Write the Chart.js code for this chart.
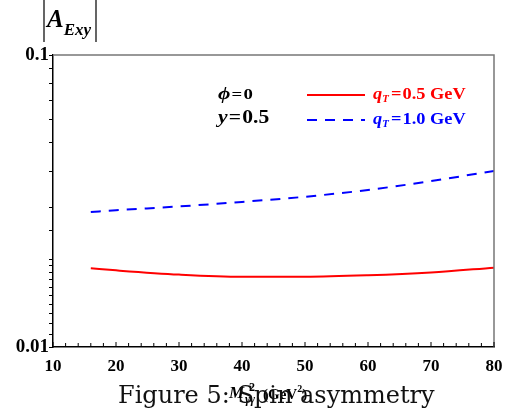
<!DOCTYPE html>
<html>
<head>
<meta charset="utf-8">
<script src="https://cdn.jsdelivr.net/npm/chart.js@4.4.0/dist/chart.umd.min.js"></script>
<style>
body { margin: 0; background: #fff; width: 505px; height: 408px; overflow: hidden; position: relative; }
#plot { position: absolute; left: 0; top: 0; }
#caption { position: absolute; left: 118px; top: 383px; font-family: "DejaVu Serif"; font-size: 24px; line-height: 24px; color: #111; white-space: nowrap; }
</style>
</head>
<body>
<canvas id="plot" width="505" height="408"></canvas>
<div id="caption">Figure 5: Spin asymmetry</div>
<script>
// M^2 (GeV^2)
var massSq = [16, 20, 30, 40, 50, 60, 70, 80];
// |A_Exy| for the two q_T values
var asymQt05 = [0.0186, 0.0183, 0.0177, 0.0174, 0.0174, 0.0176, 0.0180, 0.0187];
var asymQt10 = [0.0290, 0.0294, 0.0303, 0.0314, 0.0327, 0.0345, 0.0370, 0.0401];
var seriesNames = ['0.5 GeV', '1.0 GeV'];
var xTicks = [10, 20, 30, 40, 50, 60, 70, 80];
var yTickLabels = [0.01, 0.1];

var serif = '"Liberation Serif"';

function pts(ys) {
    return massSq.map(function (x, i) { return { x: x, y: ys[i] }; });
}

// draw a run of text pieces, each with its own font and vertical shift,
// stretched horizontally by sx
function rich(ctx, parts, x, y, color, sx) {
    sx = sx || 1;
    ctx.save();
    ctx.translate(x, y);
    ctx.scale(sx, 1);
    ctx.fillStyle = color;
    ctx.textBaseline = 'alphabetic';
    ctx.textAlign = 'left';
    var cx = 0;
    parts.forEach(function (p) {
        ctx.font = p.f;
        cx += p.pre || 0;
        ctx.fillText(p.t, cx, p.dy || 0);
        cx += ctx.measureText(p.t).width;
    });
    ctx.restore();
}

var decor = {
    id: 'decor',
    afterDraw: function (chart) {
        var ctx = chart.ctx;
        var a = chart.chartArea;
        var xs = chart.scales.x;
        ctx.save();

        // grey top and right frame
        ctx.strokeStyle = '#777';
        ctx.lineWidth = 1.5;
        ctx.beginPath();
        ctx.moveTo(a.left, a.top); ctx.lineTo(a.right, a.top); ctx.lineTo(a.right, a.bottom);
        ctx.stroke();

        // inward minor ticks along the x axis
        ctx.strokeStyle = '#000';
        ctx.lineWidth = 1;
        for (var v = xTicks[0]; v <= xTicks[xTicks.length - 1]; v += 2) {
            var px = xs.getPixelForValue(v);
            ctx.beginPath();
            ctx.moveTo(px, a.bottom);
            ctx.lineTo(px, a.bottom - (v % 10 === 0 ? 5 : 4));
            ctx.stroke();
        }

        // y title |A_Exy|
        ctx.strokeStyle = '#000';
        ctx.lineWidth = 1.2;
        ctx.beginPath();
        ctx.moveTo(a.left - 9, 0); ctx.lineTo(a.left - 9, 42);
        ctx.moveTo(a.left + 43, 0); ctx.lineTo(a.left + 43, 42);
        ctx.stroke();
        rich(ctx, [
            { t: 'A', f: 'bold italic 25px ' + serif },
            { t: 'Exy', f: 'bold italic 17px ' + serif, dy: 8 }
        ], a.left - 6, 27, '#000');

        // x title M^2_γγ (GeV^2)
        rich(ctx, [{ t: 'M', f: 'bold italic 17px ' + serif }], 229, 398, '#000');
        rich(ctx, [{ t: '2', f: 'bold 12px ' + serif }], 249, 391, '#000');
        rich(ctx, [{ t: 'γγ', f: 'bold italic 12px ' + serif }], 245, 403, '#000');
        rich(ctx, [
            { t: '(GeV', f: 'bold 15px ' + serif },
            { t: '2', f: 'bold 10px ' + serif, dy: -7 },
            { t: ')', f: 'bold 15px ' + serif }
        ], 263, 399, '#000');

        // parameters
        rich(ctx, [
            { t: 'ϕ', f: 'bold italic 17px ' + serif },
            { t: '=', f: 'bold 15px ' + serif, pre: 1 },
            { t: '0', f: 'bold 15px ' + serif, pre: 1 }
        ], a.left + 165, 99, '#000', 1.25);
        rich(ctx, [
            { t: 'y', f: 'bold italic 18px ' + serif },
            { t: '=', f: 'bold 18px ' + serif, pre: 1 },
            { t: '0.5', f: 'bold 18px ' + serif, pre: 1 }
        ], a.left + 165, 123, '#000', 1.2);

        // legend from the datasets
        chart.data.datasets.forEach(function (ds, i) {
            var ly = a.top + 40 + i * 25;
            ctx.strokeStyle = ds.borderColor;
            ctx.lineWidth = 2;
            ctx.setLineDash(ds.borderDash || []);
            ctx.beginPath();
            ctx.moveTo(a.left + 254, ly);
            ctx.lineTo(a.left + 312, ly);
            ctx.stroke();
            ctx.setLineDash([]);
            rich(ctx, [
                { t: 'q', f: 'bold italic 17px ' + serif },
                { t: 'T', f: 'bold italic 10px ' + serif, dy: 3 },
                { t: '=', f: 'bold 17px ' + serif, pre: 2 },
                { t: seriesNames[i], f: 'bold 17px ' + serif, pre: 1 }
            ], a.left + 320, ly + 4, ds.borderColor, 1.08);
        });

        ctx.restore();
    }
};

new Chart(document.getElementById('plot').getContext('2d'), {
    type: 'line',
    data: {
        datasets: [{
            label: seriesNames[0],
            data: pts(asymQt05),
            borderColor: '#ff0000',
            borderWidth: 2,
            pointRadius: 0,
            cubicInterpolationMode: 'monotone',
            fill: false
        }, {
            label: seriesNames[1],
            data: pts(asymQt10),
            borderColor: '#0000ff',
            borderWidth: 2,
            borderDash: [10, 8],
            pointRadius: 0,
            cubicInterpolationMode: 'monotone',
            fill: false
        }]
    },
    options: {
        responsive: false,
        animation: false,
        devicePixelRatio: 1,
        layout: { padding: { left: 0, top: 55, right: 11, bottom: 36 } },
        plugins: { legend: { display: false }, tooltip: { enabled: false } },
        scales: {
            x: {
                type: 'linear',
                min: 10,
                max: 80,
                afterFit: function (s) { s.height = 25; },
                afterBuildTicks: function (s) { s.ticks = xTicks.map(function (v) { return { value: v }; }); },
                grid: { display: false },
                border: { display: true, color: '#000', width: 1.5 },
                ticks: {
                    padding: 1,
                    color: '#000',
                    font: { family: serif, weight: 'bold', size: 17 }
                }
            },
            y: {
                type: 'logarithmic',
                min: 0.01,
                max: 0.1,
                afterFit: function (s) { s.width = 53; },
                grid: { display: true, drawOnChartArea: false, drawTicks: true, tickLength: 4, color: '#000' },
                border: { display: true, color: '#000', width: 1.5 },
                ticks: {
                    autoSkip: false,
                    padding: 0,
                    color: '#000',
                    font: { family: serif, weight: 'bold', size: 19 },
                    callback: function (v) {
                        for (var i = 0; i < yTickLabels.length; i++) {
                            if (Math.abs(v - yTickLabels[i]) < 1e-9) return String(yTickLabels[i]);
                        }
                        return '';
                    }
                }
            }
        }
    },
    plugins: [decor]
});
</script>
</body>
</html>
